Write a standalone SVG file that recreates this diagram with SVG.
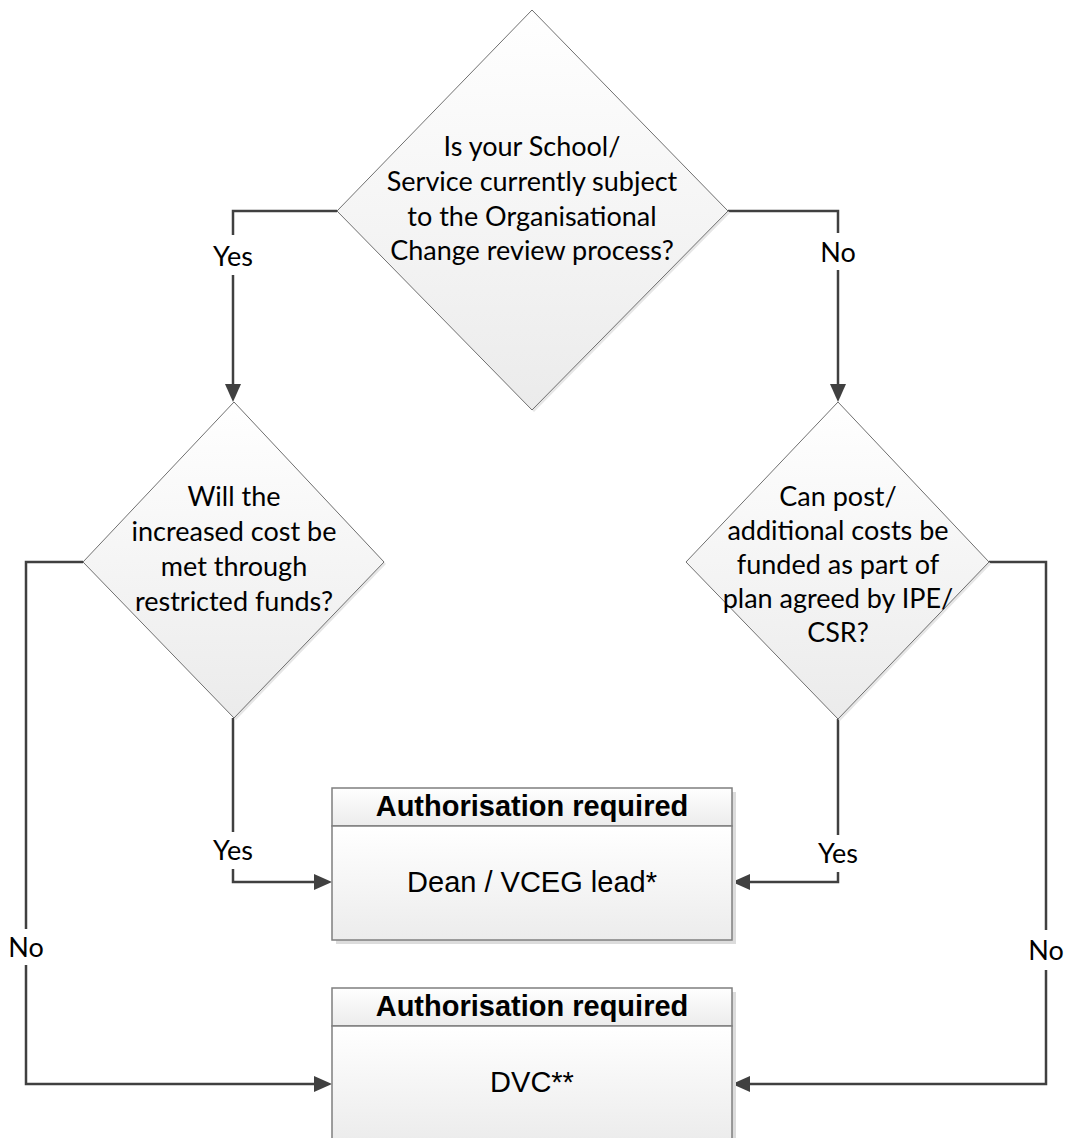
<svg xmlns="http://www.w3.org/2000/svg" width="1066" height="1138" viewBox="0 0 1066 1138">
<defs>
<linearGradient id="gDia" x1="0" y1="0" x2="0" y2="1">
<stop offset="0" stop-color="#ffffff"/>
<stop offset="1" stop-color="#ebebeb"/>
</linearGradient>
<linearGradient id="gBox" x1="0" y1="0" x2="0" y2="1">
<stop offset="0" stop-color="#ffffff"/>
<stop offset="1" stop-color="#ececec"/>
</linearGradient>
<marker id="arr" markerUnits="userSpaceOnUse" markerWidth="20" markerHeight="18" refX="2" refY="8" orient="auto">
<path d="M0,0 L18,8 L0,16 z" fill="#404040"/>
</marker>
<style>
.dia{fill:url(#gDia);stroke:#707070;stroke-width:1}
.dsh{fill:#e6e6e6}
.box{fill:url(#gBox);stroke:#7f7f7f;stroke-width:1.5}
.bsh{fill:#dcdcdc}
.q{font-family:Lato,"Open Sans",sans-serif;font-size:27px;fill:#000;text-anchor:middle}
.lbl{font-family:Lato,"Open Sans",sans-serif;font-size:27px;fill:#000;text-anchor:middle}
.hd{font-family:"Liberation Sans",Arial,sans-serif;font-size:29px;font-weight:bold;fill:#000;text-anchor:middle}
.bd{font-family:"Liberation Sans",Arial,sans-serif;font-size:29px;fill:#000;text-anchor:middle}
.c{fill:none;stroke:#404040;stroke-width:2.5}
</style>
</defs>
<rect width="1066" height="1138" fill="#ffffff"/>

<g id="connectors">
<path class="c" d="M337,211 H233 V235"/>
<path class="c" d="M233,275 V386" marker-end="url(#arr)"/>
<path class="c" d="M728,211 H838 V233"/>
<path class="c" d="M838,270 V386" marker-end="url(#arr)"/>
<path class="c" d="M233,718 V832"/>
<path class="c" d="M233,869 V882 H316" marker-end="url(#arr)"/>
<path class="c" d="M83,562 H26 V929"/>
<path class="c" d="M26,965 V1084 H316" marker-end="url(#arr)"/>
<path class="c" d="M838,719 V835"/>
<path class="c" d="M838,872 V882 H748" marker-end="url(#arr)"/>
<path class="c" d="M989,562 H1046 V930"/>
<path class="c" d="M1046,970 V1084 H748" marker-end="url(#arr)"/>
<text class="lbl" x="233" y="266">Yes</text>
<text class="lbl" x="838" y="262">No</text>
<text class="lbl" x="233" y="860">Yes</text>
<text class="lbl" x="838" y="863">Yes</text>
<text class="lbl" x="26" y="957">No</text>
<text class="lbl" x="1046" y="960">No</text>
</g>

<g id="q1">
<polygon class="dsh" points="534,13 730,213 534,412 339,213"/>
<polygon class="dia" points="532,10 728,211 532,410 337,211"/>
<text class="q" x="532" y="156">Is your School/</text>
<text class="q" x="532" y="191">Service currently subject</text>
<text class="q" x="532" y="226">to the Organisational</text>
<text class="q" x="532" y="260">Change review process?</text>
</g>

<g id="q2">
<polygon class="dsh" points="236,404 386,564 236,720 85,564"/>
<polygon class="dia" points="234,402 384,562 234,718 83,562"/>
<text class="q" x="234" y="506">Will the</text>
<text class="q" x="234" y="541">increased cost be</text>
<text class="q" x="234" y="576">met through</text>
<text class="q" x="234" y="611">restricted funds?</text>
</g>

<g id="q3">
<polygon class="dsh" points="840,404 991,564 840,721 688,564"/>
<polygon class="dia" points="838,402 989,562 838,719 686,562"/>
<text class="q" x="838" y="506">Can post/</text>
<text class="q" x="838" y="540">additional costs be</text>
<text class="q" x="838" y="574">funded as part of</text>
<text class="q" x="838" y="608">plan agreed by IPE/</text>
<text class="q" x="838" y="642">CSR?</text>
</g>

<g id="auth1">
<rect class="bsh" x="336" y="792" width="400" height="152"/>
<rect class="box" x="332" y="788" width="400" height="38"/>
<rect class="box" x="332" y="826" width="400" height="114"/>
<text class="hd" x="532" y="816">Authorisation required</text>
<text class="bd" x="532" y="892">Dean / VCEG lead*</text>
</g>

<g id="auth2">
<rect class="bsh" x="336" y="992" width="400" height="152"/>
<rect class="box" x="332" y="988" width="400" height="38"/>
<rect class="box" x="332" y="1026" width="400" height="114"/>
<text class="hd" x="532" y="1016">Authorisation required</text>
<text class="bd" x="532" y="1092">DVC**</text>
</g>
</svg>
